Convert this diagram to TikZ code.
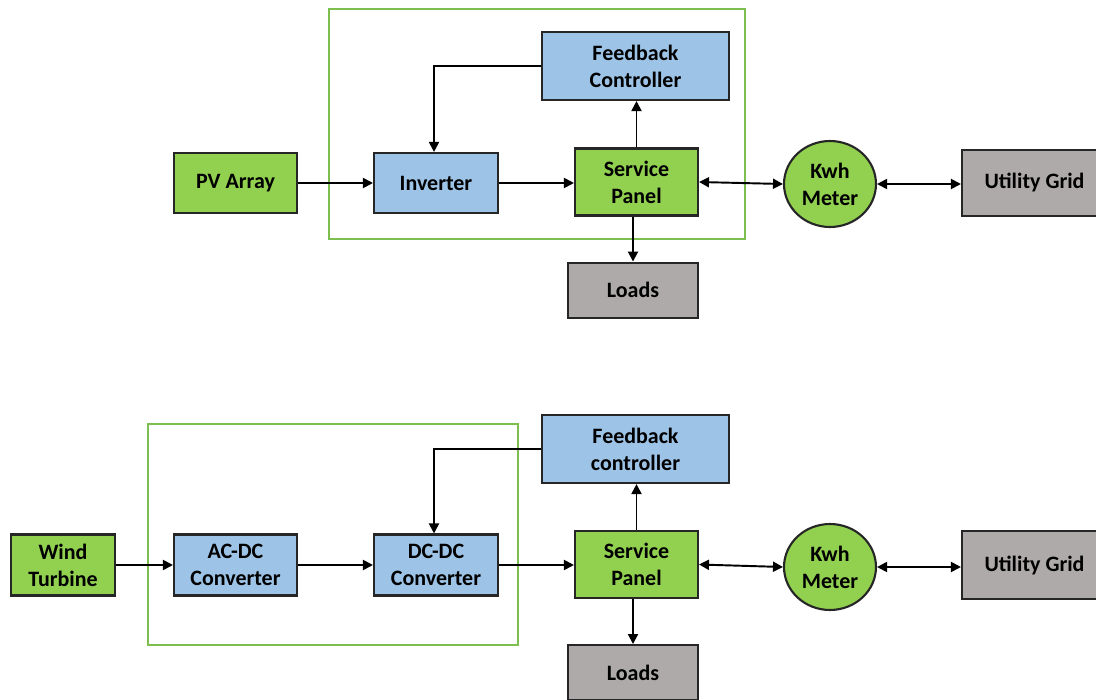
\documentclass[tikz,border=0pt]{standalone}
\usepackage{fontspec}
\setmainfont{Carlito}
\usetikzlibrary{shapes.geometric, arrows.meta, positioning}
\definecolor{srcgreen}{HTML}{92D050}
\definecolor{ctlblue}{HTML}{9DC3E6}
\definecolor{extgray}{HTML}{AEAAAA}
\definecolor{framegreen}{HTML}{7CBF4E}

\begin{document}
\begin{tikzpicture}[
    x=0.02cm, y=-0.02cm,
    blk/.style={rectangle, draw=black!85, line width=1.2pt, align=center, inner sep=0pt,
        font=\fontsize{12.5}{15.3}\selectfont\bfseries},
    src/.style={blk, fill=srcgreen, minimum width=2.46cm, minimum height=1.2cm},
    conv/.style={blk, fill=ctlblue, minimum width=2.48cm, minimum height=1.2cm},
    ctrl/.style={blk, fill=ctlblue, minimum width=3.74cm, minimum height=1.36cm},
    panel/.style={blk, fill=srcgreen, minimum width=2.46cm, minimum height=1.34cm},
    ext/.style={blk, fill=extgray, minimum width=2.6cm, minimum height=1.1cm},
    meter/.style={ellipse, draw=black!85, line width=1.2pt, fill=srcgreen, inner sep=0pt,
        minimum width=1.84cm, minimum height=1.72cm, align=center,
        font=\fontsize{12.5}{15.3}\selectfont\bfseries},
    frame/.style={draw=framegreen, line width=0.9pt},
    >={Triangle[length=0.2cm, width=0.2cm]}, line width=1.1pt
]
    \useasboundingbox (0,0) rectangle (1096,700);
    \clip (0,0) rectangle (1096,700);

    % PV system
    \draw[frame] (329,9) rectangle (745,239);
    \node[src] (pv) at (235.5,183) {PV Array};
    \node[conv] (inv) at (436,183) {Inverter};
    \node[ctrl] (fb1) at (635.5,66) {Feedback\\Controller};
    \node[panel] (sp1) at (636.5,182) {Service\\Panel};
    \node[meter] (kwh1) at (830,184) {Kwh\\Meter};
    \node[ext, minimum height=1.32cm, minimum width=2.9cm] (grid1) at (1034.5,183) {Utility Grid};
    \node[ext, below=0.9cm of sp1.south, anchor=north, xshift=-0.07cm] (load1) {Loads};

    \draw[->] (pv) -- (inv);
    \draw[->] (inv) -- (sp1.west |- inv.east);
    \draw[->] (sp1.north) -- (sp1.north |- fb1.south);
    \draw[->] (fb1.west) -| ([xshift=-0.04cm]inv.north);
    \draw[->] (sp1.south -| load1.north) -- (load1.north);
    \draw[<->] (sp1.east) -- (kwh1.west);
    \draw[<->] (kwh1.east) -- (grid1.west |- kwh1.east);

    % wind system
    \draw[frame] (148,424) rectangle (518,645);
    \node[src, minimum width=2.08cm, minimum height=1.22cm] (wt) at (63,565) {Wind\\Turbine};
    \node[conv, minimum width=2.46cm, minimum height=1.22cm] (acdc) at (235.5,565) {AC-DC\\Converter};
    \node[conv, minimum height=1.22cm] (dcdc) at (436,565) {DC-DC\\Converter};
    \node[ctrl] (fb2) at (635.5,449) {Feedback\\controller};
    \node[panel] (sp2) at (636.5,564.5) {Service\\Panel};
    \node[meter] (kwh2) at (830,567) {Kwh\\Meter};
    \node[ext, minimum height=1.36cm, minimum width=2.9cm] (grid2) at (1034.5,565) {Utility Grid};
    \node[ext, below=0.9cm of sp2.south, anchor=north, xshift=-0.07cm] (load2) {Loads};

    \draw[->] (wt) -- (acdc);
    \draw[->] (acdc) -- (dcdc);
    \draw[->] (dcdc) -- (sp2.west |- dcdc.east);
    \draw[->] (sp2.north) -- (sp2.north |- fb2.south);
    \draw[->] (fb2.west) -| ([xshift=-0.04cm]dcdc.north);
    \draw[->] (sp2.south -| load2.north) -- (load2.north);
    \draw[<->] (sp2.east) -- (kwh2.west);
    \draw[<->] (kwh2.east) -- (grid2.west |- kwh2.east);
\end{tikzpicture}
\end{document}
